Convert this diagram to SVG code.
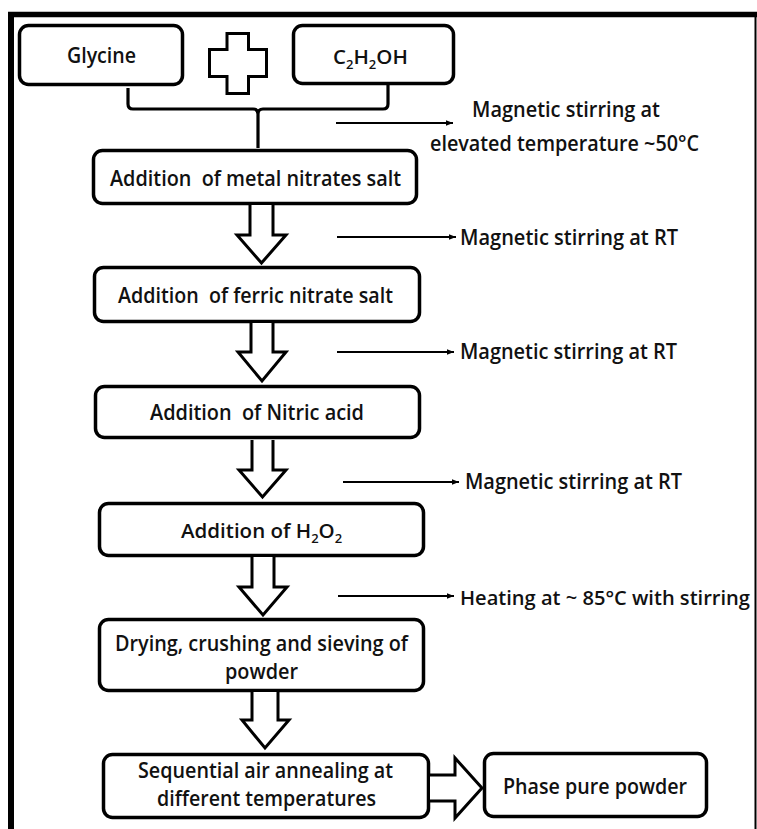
<svg xmlns="http://www.w3.org/2000/svg" width="757" height="829" viewBox="0 0 757 829">
<defs>
<marker id="ah" markerUnits="userSpaceOnUse" markerWidth="8" markerHeight="8" refX="7" refY="4" orient="auto">
<path d="M0,1.2 L7,4 L0,6.8 Z" fill="#000"/>
</marker>
<style>
.box{fill:#fff;stroke:#000;stroke-width:3.5}
.blk{fill:#fff;stroke:#000;stroke-width:3;stroke-linejoin:miter}
.ln{stroke:#000;stroke-width:2;fill:none}
.br{stroke:#000;stroke-width:3.2;fill:none;stroke-linejoin:round}
text{font-family:"Open Sans","Noto Sans","DejaVu Sans",sans-serif;font-weight:600;font-size:22px;fill:#111}
.s20{font-size:20.5px}
</style>
</defs>
<rect width="757" height="829" fill="#fff"/>
<g id="frame">
<line x1="8" y1="14.5" x2="757" y2="14.5" stroke="#000" stroke-width="5.5"/>
<line x1="11" y1="12" x2="11" y2="829" stroke="#000" stroke-width="6"/>
<line x1="755.5" y1="14" x2="755.5" y2="829" stroke="#000" stroke-width="2"/>
</g>
<g id="glycine">
<rect class="box" x="19.5" y="25.5" width="163" height="59" rx="9"/>
<text x="67" y="63" textLength="69" lengthAdjust="spacingAndGlyphs">Glycine</text>
</g>
<g id="plus">
<path class="blk" d="M227,33.5 L248.5,33.5 L248.5,49.5 L266.5,49.5 L266.5,76.5 L248.5,76.5 L248.5,93.5 L227,93.5 L227,76.5 L209.5,76.5 L209.5,49.5 L227,49.5 Z"/>
</g>
<g id="ethanol">
<rect class="box" x="293.5" y="25.5" width="160" height="58" rx="9"/>
<text class="s20" x="333" y="64">C<tspan dy="5" font-size="13">2</tspan><tspan dy="-5">H</tspan><tspan dy="5" font-size="13">2</tspan><tspan dy="-5">OH</tspan></text>
</g>
<g id="metal-nitrates">
<rect class="box" x="93.5" y="150.5" width="323" height="53" rx="9"/>
<text x="110" y="186" textLength="291" lengthAdjust="spacingAndGlyphs" xml:space="preserve">Addition  of metal nitrates salt</text>
</g>
<g id="ferric-nitrate">
<rect class="box" x="94.5" y="267.5" width="325" height="54" rx="9"/>
<text x="118" y="303" textLength="275" lengthAdjust="spacingAndGlyphs" xml:space="preserve">Addition  of ferric nitrate salt</text>
</g>
<g id="nitric-acid">
<rect class="box" x="95.5" y="386.5" width="324" height="51" rx="9"/>
<text x="150" y="420" textLength="214" lengthAdjust="spacingAndGlyphs" xml:space="preserve">Addition  of Nitric acid</text>
</g>
<g id="h2o2">
<rect class="box" x="99.5" y="503.5" width="324" height="52" rx="9"/>
<text class="s20" x="181" y="538">Addition of H<tspan dy="5" font-size="13">2</tspan><tspan dy="-5">O</tspan><tspan dy="5" font-size="13">2</tspan></text>
</g>
<g id="drying">
<rect class="box" x="99.5" y="619.5" width="324" height="71" rx="9"/>
<text x="115" y="651" textLength="293" lengthAdjust="spacingAndGlyphs">Drying, crushing and sieving of</text>
<text x="225" y="679" textLength="73" lengthAdjust="spacingAndGlyphs">powder</text>
</g>
<g id="annealing">
<rect class="box" x="103.5" y="754.5" width="325" height="63" rx="9"/>
<text x="138" y="778" textLength="255" lengthAdjust="spacingAndGlyphs">Sequential air annealing at</text>
<text x="157" y="806" textLength="219" lengthAdjust="spacingAndGlyphs">different temperatures</text>
</g>
<g id="phase-pure">
<rect class="box" x="484.5" y="753.5" width="222" height="63" rx="9"/>
<text x="503" y="794" textLength="184" lengthAdjust="spacingAndGlyphs">Phase pure powder</text>
</g>
<g id="label-1">
<text x="472" y="117" textLength="188" lengthAdjust="spacingAndGlyphs">Magnetic stirring at</text>
<text x="430" y="151" textLength="269" lengthAdjust="spacingAndGlyphs">elevated temperature ~50°C</text>
</g>
<g id="label-2">
<text x="460" y="245" textLength="218" lengthAdjust="spacingAndGlyphs">Magnetic stirring at RT</text>
</g>
<g id="label-3">
<text x="460" y="359" textLength="217" lengthAdjust="spacingAndGlyphs">Magnetic stirring at RT</text>
</g>
<g id="label-4">
<text x="465" y="489" textLength="217" lengthAdjust="spacingAndGlyphs">Magnetic stirring at RT</text>
</g>
<g id="label-5">
<text class="s20" x="460" y="605" textLength="290" lengthAdjust="spacingAndGlyphs">Heating at ~ 85°C with stirring</text>
</g>
<g id="connectors">
<path class="br" d="M128,88 L128,104 Q128,109 133,109 L253,109 Q258,109 258,114 L258,148 M258,114 Q258,109 263,109 L383,109 Q388,109 388,104 L388,85"/>
<path class="blk" d="M250,205 L250,235 L237,235 L261.5,263 L286,235 L273,235 L273,205"/>
<path class="blk" d="M251,323 L251,352 L238,352 L262,381 L286,352 L273,352 L273,323"/>
<path class="blk" d="M252,440 L252,470 L239,470 L262.5,497 L286,470 L273,470 L273,440"/>
<path class="blk" d="M252,557 L252,587 L239,587 L263,615 L287,587 L274,587 L274,557"/>
<path class="blk" d="M252,692 L252,720 L242,720 L265,748 L289,720 L278,720 L278,692"/>
<path class="blk" d="M430,775 L455,775 L455,758 L482,788 L455,818 L455,801 L430,801"/>
<line class="ln" x1="336" y1="123" x2="453" y2="123" marker-end="url(#ah)"/>
<line class="ln" x1="337" y1="237" x2="456" y2="237" marker-end="url(#ah)"/>
<line class="ln" x1="337" y1="352" x2="454" y2="352" marker-end="url(#ah)"/>
<line class="ln" x1="343" y1="482" x2="459" y2="482" marker-end="url(#ah)"/>
<line class="ln" x1="338" y1="596" x2="454" y2="596" marker-end="url(#ah)"/>
</g>
</svg>
